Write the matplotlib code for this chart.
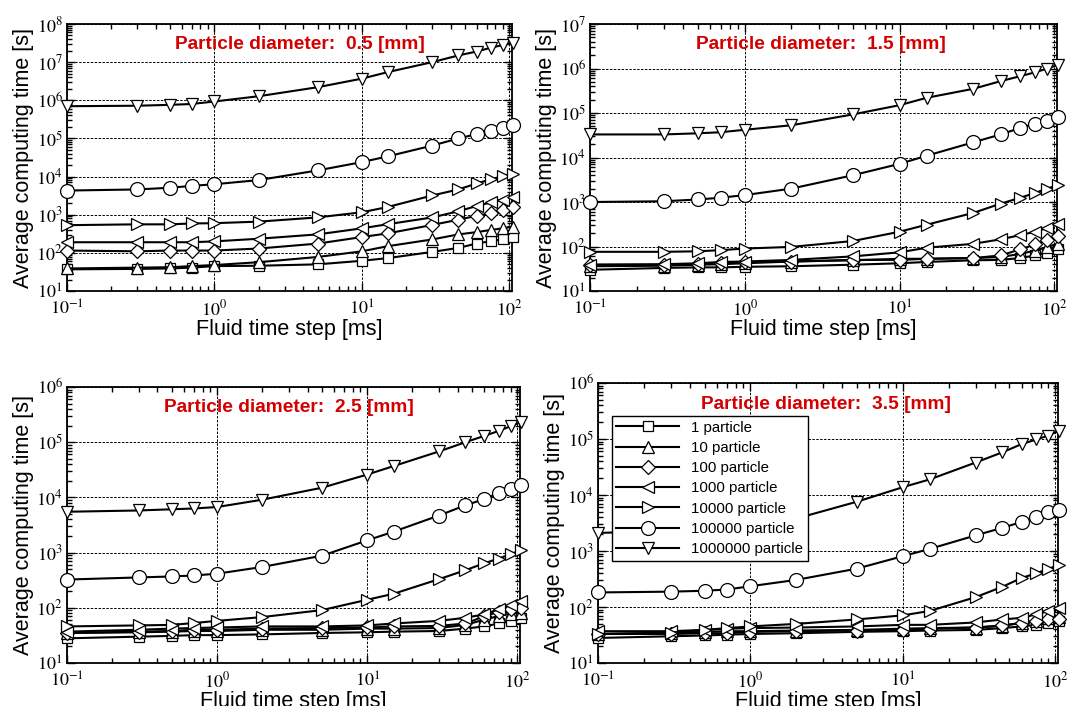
import numpy as np
import matplotlib
matplotlib.use('Agg')
import matplotlib.pyplot as plt
from matplotlib.ticker import LogLocator, FuncFormatter, NullFormatter

plt.rcParams['mathtext.fontset'] = 'stix'
plt.rcParams['font.family'] = 'Liberation Sans'

# fluid time step [ms]
dt = [0.1, 0.3, 0.5, 0.7, 1, 2, 5, 10, 15, 30, 45, 60, 75, 90, 105]

labels = ['1 particle', '10 particle', '100 particle', '1000 particle',
          '10000 particle', '100000 particle', '1000000 particle']
diameters = ['0.5', '1.5', '2.5', '3.5']

# average computing time [s], one row per particle count (1 ... 1e6)
time_05 = [
    [37, 38, 39, 41, 45, 46, 50, 62, 73, 106, 135, 176, 203, 225, 260],
    [39, 41, 42, 45, 48, 57, 78, 110, 150, 225, 305, 350, 400, 440, 490],
    [115, 110, 115, 115, 115, 130, 175, 260, 325, 540, 740, 940, 1100, 1330, 1600],
    [190, 190, 190, 190, 200, 235, 305, 440, 565, 850, 1230, 1700, 2100, 2500, 3000],
    [532, 560, 560, 590, 600, 660, 850, 1160, 1600, 3200, 4600, 6600, 8500, 10300, 12000],
    [4300, 4600, 5100, 5700, 6300, 8100, 14500, 24000, 34000, 65000, 100000, 130000, 160000, 190000, 230000],
    [7.0e5, 7.2e5, 7.6e5, 8.0e5, 9.3e5, 1.28e6, 2.2e6, 3.7e6, 5.5e6, 1.0e7, 1.5e7, 1.9e7, 2.4e7, 2.8e7, 3.2e7],
]

time_15 = [
    [30, 33, 34, 34, 35, 36, 39, 42, 45, 49, 50, 55, 63, 72, 86],
    [36, 37, 39, 40, 42, 46, 49, 53, 53, 55, 58, 68, 81, 98, 115],
    [39, 39, 40, 42, 45, 46, 50, 50, 53, 55, 63, 86, 111, 138, 170],
    [39, 40, 42, 45, 46, 50, 60, 74, 94, 115, 145, 180, 215, 260, 320],
    [76, 76, 78, 83, 90, 98, 133, 215, 310, 570, 920, 1240, 1600, 2000, 2400],
    [1000, 1040, 1140, 1250, 1430, 2000, 4000, 7200, 11000, 22000, 33000, 46000, 58000, 66000, 80000],
    [3.3e4, 3.3e4, 3.5e4, 3.7e4, 4.2e4, 5.3e4, 9.3e4, 1.5e5, 2.2e5, 3.5e5, 5.2e5, 6.7e5, 8.2e5, 1.0e6, 1.2e6],
]

time_25 = [
    [28, 30, 31, 32, 32, 33, 35, 36, 37, 38, 42, 46, 52, 57, 66],
    [35, 36, 37, 38, 38, 40, 40, 42, 42, 43, 49, 61, 71, 78, 82],
    [35, 37, 38, 40, 40, 42, 43, 44, 46, 47, 52, 70, 85, 95, 100],
    [37, 40, 42, 43, 44, 46, 46, 48, 52, 58, 66, 76, 94, 113, 133],
    [46, 48, 49, 53, 58, 68, 91, 140, 180, 330, 480, 640, 780, 940, 1100],
    [325, 355, 370, 385, 415, 550, 880, 1670, 2400, 4700, 7200, 9300, 12000, 14500, 17000],
    [5500, 5800, 6100, 6300, 6700, 9100, 15000, 26000, 37000, 68000, 1.0e5, 1.3e5, 1.6e5, 1.95e5, 2.3e5],
]

time_35 = [
    [28, 30, 31, 32, 33, 34, 36, 37, 38, 39, 42, 45, 48, 52, 56],
    [33, 34, 36, 37, 37, 38, 39, 41, 42, 43, 46, 52, 57, 64, 66],
    [33, 33, 34, 34, 36, 37, 38, 39, 41, 43, 47, 52, 57, 60, 60],
    [37, 37, 39, 41, 42, 43, 45, 48, 48, 53, 60, 64, 74, 85, 95],
    [33, 35, 39, 42, 45, 50, 60, 71, 85, 150, 230, 330, 400, 480, 560],
    [182, 188, 195, 205, 235, 305, 485, 810, 1090, 1900, 2600, 3300, 4000, 4900, 5500],
    [2100, 2300, 2450, 2600, 2800, 3800, 7600, 13800, 19000, 38000, 58000, 81000, 98000, 1.15e5, 1.4e5],
]

all_times = [time_05, time_15, time_25, time_35]
ytops = [1e8, 1e7, 1e6, 1e6]

markers = ['s', '^', 'D', '<', '>', 'o', 'v']
msizes = [7, 9, 7, 9, 9, 10, 9]

# axes rectangles [left, bottom, width, height] in figure fraction
rects = [
    [0.0627, 0.5878, 0.4167, 0.3782],
    [0.5524, 0.5878, 0.4373, 0.3782],
    [0.0627, 0.0609, 0.4242, 0.3909],
    [0.5599, 0.0609, 0.4307, 0.3966],
]
title_x = [0.523, 0.495, 0.489, 0.496]


def pow10(v, pos):
    return r'$\mathrm{10^{%d}}$' % int(round(np.log10(v)))


fig = plt.figure(figsize=(10.68, 7.06), dpi=100)

for k in range(4):
    ax = fig.add_axes(rects[k])
    for i in range(7):
        ax.plot(dt, all_times[k][i], color='black', lw=1.5,
                marker=markers[i], ms=msizes[i], mfc='white', mec='black',
                mew=0.9, clip_on=False, label=labels[i], zorder=3)
    ax.set_xscale('log')
    ax.set_yscale('log')
    ax.set_xlim(0.1, 104)
    ax.set_ylim(10, ytops[k])
    ax.xaxis.set_major_locator(LogLocator(base=10, numticks=10))
    ax.yaxis.set_major_locator(LogLocator(base=10, numticks=12))
    ax.xaxis.set_minor_locator(LogLocator(base=10, subs=np.arange(2, 10), numticks=10))
    ax.yaxis.set_minor_locator(LogLocator(base=10, subs=np.arange(2, 10), numticks=12))
    ax.xaxis.set_major_formatter(FuncFormatter(pow10))
    ax.yaxis.set_major_formatter(FuncFormatter(pow10))
    ax.xaxis.set_minor_formatter(NullFormatter())
    ax.yaxis.set_minor_formatter(NullFormatter())
    ax.tick_params(which='both', direction='in', top=True, right=True,
                   labelsize=13, width=1.0)
    ax.tick_params(which='major', length=6)
    ax.tick_params(which='minor', length=3.5)
    ax.tick_params(axis='x', pad=6)
    ax.tick_params(axis='y', pad=3)
    ax.grid(True, which='major', color='black', lw=0.7, ls=(0, (2.5, 1.5)))
    ax.set_axisbelow(True)
    for s in ax.spines.values():
        s.set_linewidth(1.3)
    ax.set_xlabel('Fluid time step [ms]', fontsize=15.5, labelpad=0)
    ax.set_ylabel('Average computing time [s]', fontsize=15.5, labelpad=2)
    ax.text(title_x[k], 0.925, 'Particle diameter:  ' + diameters[k] + ' [mm]',
            transform=ax.transAxes, ha='center', va='center', color='#d40000',
            fontsize=13.8, fontweight='bold', zorder=5)
    if k == 3:
        leg = ax.legend(loc='upper left', bbox_to_anchor=(0.03, 0.882),
                        borderaxespad=0, fontsize=10.8, handlelength=4.2,
                        handletextpad=0.8, labelspacing=0.42, fancybox=False,
                        framealpha=1, edgecolor='black', borderpad=0.3)
        leg.get_frame().set_linewidth(1.0)
        leg.set_zorder(10)

plt.savefig('out.png', dpi=100)
